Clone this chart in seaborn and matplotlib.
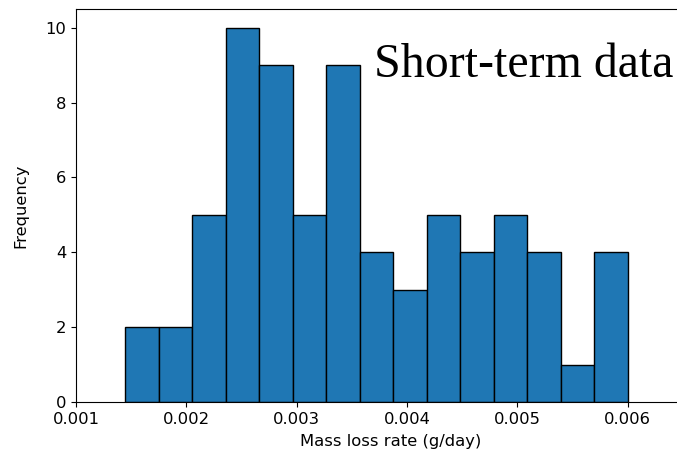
import matplotlib
matplotlib.use("Agg")
import matplotlib.pyplot as plt
import seaborn as sns
import numpy as np
import pandas as pd

# Histogram data
bin_start = 0.001444
bin_end = 0.0060
n_bins = 15
counts = [2, 2, 5, 10, 9, 5, 9, 4, 3, 5, 4, 5, 4, 1, 4]
x_ticks = [0.001, 0.002, 0.003, 0.004, 0.005, 0.006]
y_ticks = [0, 2, 4, 6, 8, 10]
x_label = "Mass loss rate (g/day)"
y_label = "Frequency"
annotation = "Short-term data"

edges = np.linspace(bin_start, bin_end, n_bins + 1)
centers = (edges[:-1] + edges[1:]) / 2
df = pd.DataFrame({"rate": centers, "count": counts})

plt.rcParams["font.size"] = 11.8
fig = plt.figure(figsize=(6.77, 4.61), dpi=100)
# axes extend slightly past the right edge (right spine cropped, as in the reference)
ax = fig.add_axes([76 / 677, 59 / 461, 629.1 / 677, 393 / 461])

sns.histplot(data=df, x="rate", weights="count", bins=list(edges), ax=ax,
             color="#1f77b4", alpha=1.0, edgecolor="black", linewidth=1.0)

ax.set_xlim(0.001, 0.0067)
ax.set_ylim(0, 10.5)
ax.set_xticks(x_ticks)
ax.set_xticklabels([f"{v:.3f}" for v in x_ticks])
ax.set_yticks(y_ticks)
ax.set_xlabel(x_label, labelpad=5)
ax.set_ylabel(y_label, labelpad=12)

fig.text(374 / 677, (461 - 76.7) / 461, annotation, family="Liberation Serif",
         fontsize=34.5, ha="left", va="baseline", color="black")

fig.savefig("out.png", dpi=100)
